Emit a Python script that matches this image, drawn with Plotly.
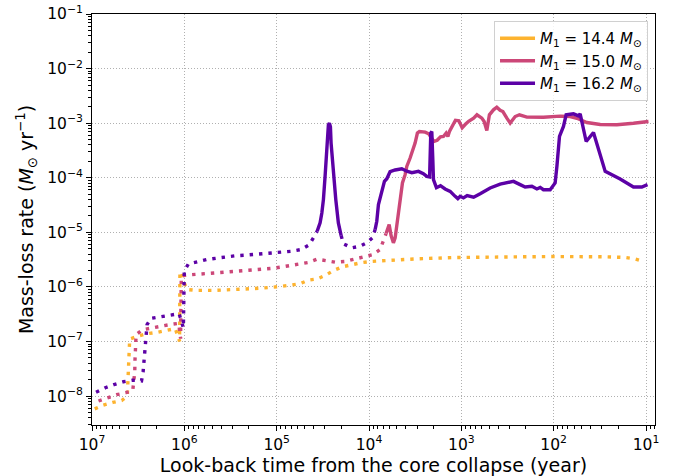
import numpy as np
import plotly.graph_objects as go

# ---------------- data (log10 of look-back time [yr], log10 of mass-loss rate [Msun/yr]) -------------
# M1 = 14.4 Msun (dotted everywhere)
y14_logt = [6.971, 6.878, 6.776, 6.678, 6.618, 6.613, 6.610, 6.607, 6.599, 6.596, 6.592, 6.498, 6.401,
            6.296, 6.195, 6.098, 6.052, 6.048, 5.974, 5.873, 5.671, 5.465, 5.158, 4.952, 4.750, 4.657,
            4.562, 4.468, 4.384, 4.288, 4.191, 4.089, 3.988, 3.782, 3.476, 3.067, 2.580, 2.038, 1.428,
            1.222, 1.120, 1.023]
y14_logm = [-8.234, -8.167, -8.117, -8.081, -7.996, -7.814, -7.649, -7.472, -7.302, -7.124, -6.954,
            -6.900, -6.856, -6.832, -6.801, -6.764, -6.997, -5.717, -6.046, -6.064, -6.064, -6.051,
            -6.022, -5.991, -5.942, -5.876, -5.854, -5.784, -5.698, -5.631, -5.589, -5.558, -5.534,
            -5.510, -5.485, -5.461, -5.448, -5.443, -5.448, -5.461, -5.485, -5.534]

# M1 = 15.0 Msun : dotted phase then solid phase
p15_dot_logt = [6.930, 6.834, 6.735, 6.635, 6.559, 6.548, 6.537, 6.536, 6.534, 6.527, 6.523, 6.451,
                6.350, 6.247, 6.144, 6.061, 6.041, 6.039, 6.036, 6.034, 6.033, 5.982, 5.881, 5.776,
                5.675, 5.573, 5.469, 5.367, 5.267, 5.166, 5.061, 4.960, 4.855, 4.754, 4.657, 4.562,
                4.465, 4.364, 4.262, 4.161, 4.061, 3.961, 3.880, 3.844, 3.815]
p15_dot_logm = [-8.090, -8.026, -7.975, -7.938, -7.901, -7.722, -7.558, -7.386, -7.216, -7.046, -6.874,
                -6.783, -6.746, -6.717, -6.686, -6.667, -6.947, -6.594, -6.278, -5.973, -5.803, -5.784,
                -5.772, -5.759, -5.748, -5.735, -5.717, -5.704, -5.693, -5.680, -5.662, -5.638, -5.613,
                -5.589, -5.552, -5.492, -5.516, -5.547, -5.534, -5.497, -5.452, -5.410, -5.315, -5.163,
                -5.022]
p15_sol_logt = [3.815, 3.782, 3.761, 3.736, 3.717, 3.688, 3.663, 3.638, 3.609, 3.591, 3.555, 3.526,
                3.501, 3.476, 3.454, 3.392, 3.354, 3.298, 3.262, 3.226, 3.194, 3.165, 3.146, 3.129,
                3.100, 3.064, 3.027, 2.991, 2.956, 2.921, 2.867, 2.831, 2.778, 2.753, 2.724, 2.696,
                2.652, 2.616, 2.580, 2.550, 2.507, 2.471, 2.417, 2.371, 2.290, 2.111, 1.930, 1.821,
                1.749, 1.640, 1.496, 1.315, 1.136, 0.973]
p15_sol_logm = [-5.022, -4.858, -5.059, -5.192, -5.101, -4.766, -4.400, -4.095, -3.943, -3.792, -3.638,
                -3.486, -3.364, -3.181, -3.152, -3.163, -3.194, -3.335, -3.313, -3.249, -3.243, -3.181,
                -3.243, -3.152, -3.066, -2.947, -2.956, -3.084, -3.020, -2.965, -2.907, -2.846, -2.907,
                -2.969, -3.134, -2.846, -2.755, -2.706, -2.764, -2.786, -2.907, -2.998, -2.878, -2.846,
                -2.889, -2.892, -2.870, -2.878, -2.910, -2.987, -3.024, -3.027, -3.002, -2.969]

# M1 = 16.2 Msun : dotted / solid (spike) / dotted / solid
q16_dot1_logt = [6.957, 6.856, 6.762, 6.661, 6.563, 6.464, 6.447, 6.437, 6.426, 6.418, 6.412, 6.404,
                 6.361, 6.260, 6.158, 6.057, 6.011, 6.009, 6.003, 6.001, 5.957, 5.855, 5.754, 5.653,
                 5.551, 5.451, 5.346, 5.245, 5.144, 5.042, 4.938, 4.836, 4.736, 4.649, 4.592, 4.562]
q16_dot1_logm = [-7.929, -7.847, -7.788, -7.737, -7.710, -7.722, -7.558, -7.380, -7.210, -7.039, -6.863,
                 -6.691, -6.576, -6.552, -6.521, -6.490, -6.750, -6.411, -6.059, -5.708, -5.580, -5.534,
                 -5.497, -5.474, -5.448, -5.430, -5.419, -5.406, -5.393, -5.382, -5.364, -5.346, -5.315,
                 -5.229, -5.071, -4.980]
q16_sol1_logt = [4.562, 4.530, 4.511, 4.494, 4.476, 4.457, 4.440, 4.429, 4.418, 4.411, 4.386, 4.360,
                 4.332, 4.302]
q16_sol1_logm = [-4.980, -4.826, -4.644, -4.400, -3.974, -3.364, -3.029, -2.998, -3.066, -3.364, -3.974,
                 -4.400, -4.826, -5.059]
q16_dot2_logt = [4.302, 4.277, 4.186, 4.096, 4.024, 3.963, 3.934]
q16_dot2_logm = [-5.059, -5.210, -5.283, -5.254, -5.192, -5.101, -4.949]
q16_sol2_logt = [3.934, 3.916, 3.898, 3.877, 3.855, 3.833, 3.807, 3.772, 3.717, 3.645, 3.591, 3.536,
                 3.465, 3.411, 3.374, 3.344, 3.331, 3.320, 3.309, 3.302, 3.270, 3.226, 3.176, 3.121,
                 3.067, 3.038, 3.013, 2.977, 2.937, 2.867, 2.796, 2.688, 2.580, 2.436, 2.363, 2.309,
                 2.236, 2.182, 2.146, 2.111, 2.038, 1.984, 1.965, 1.937, 1.894, 1.865, 1.786, 1.731,
                 1.713, 1.684, 1.648, 1.569, 1.515, 1.442, 1.280, 1.136, 1.045, 0.984]
q16_sol2_logm = [-4.949, -4.797, -4.492, -4.364, -4.236, -4.066, -4.017, -3.889, -3.857, -3.834, -3.879,
                 -3.907, -3.883, -3.925, -3.974, -3.985, -3.181, -3.152, -3.669, -4.035, -4.181, -4.145,
                 -4.205, -4.249, -4.340, -4.382, -4.340, -4.369, -4.327, -4.355, -4.291, -4.187, -4.117,
                 -4.066, -4.126, -4.168, -4.157, -4.205, -4.176, -4.218, -4.218, -4.095, -3.792, -3.243,
                 -3.060, -2.846, -2.828, -2.865, -2.828, -3.060, -3.335, -3.170, -3.486, -3.883, -4.022,
                 -4.168, -4.168, -4.126]

labels = ["<i>M</i><sub>1</sub> = 14.4 <i>M</i><sub>⊙</sub>",
          "<i>M</i><sub>1</sub> = 15.0 <i>M</i><sub>⊙</sub>",
          "<i>M</i><sub>1</sub> = 16.2 <i>M</i><sub>⊙</sub>"]
colors = ["#fdb32f", "#cc4778", "#5c01a6"]

x_tick_exp = [7, 6, 5, 4, 3, 2, 1]
y_tick_exp = [-8, -7, -6, -5, -4, -3, -2, -1]

# ---------------- figure ----------------
DOT = "3.4px,6px"


def p(v):
    return np.power(10.0, np.array(v))


fig = go.Figure()
segments = [
    (y14_logt, y14_logm, colors[0], DOT),
    (p15_dot_logt, p15_dot_logm, colors[1], DOT),
    (p15_sol_logt, p15_sol_logm, colors[1], "solid"),
    (q16_dot1_logt, q16_dot1_logm, colors[2], DOT),
    (q16_sol1_logt, q16_sol1_logm, colors[2], "solid"),
    (q16_dot2_logt, q16_dot2_logm, colors[2], DOT),
    (q16_sol2_logt, q16_sol2_logm, colors[2], "solid"),
]
for lt, lm, c, d in segments:
    fig.add_trace(go.Scatter(x=p(lt), y=p(lm), mode="lines",
                             line=dict(color=c, width=3.4, dash=d),
                             showlegend=False, hoverinfo="skip"))

for lab, c in zip(labels, colors):
    fig.add_trace(go.Scatter(x=[None], y=[None], mode="lines", name=lab,
                             line=dict(color=c, width=3.5)))


def sup(e):
    s = str(e).replace("-", "−")
    return f"10<sup>{s}</sup>"


def minor_vals(lo, hi):
    out = []
    for e in range(lo, hi):
        for k in range(2, 10):
            out.append(k * 10.0 ** e)
    return out


axis_common = dict(
    type="log", showline=True, linecolor="black", linewidth=1, mirror=True,
    ticks="outside", ticklen=5, tickwidth=1, tickcolor="black",
    showgrid=True, gridcolor="#b0b0b0", gridwidth=1, griddash="1px,2px",
    zeroline=False, tickfont=dict(size=15.5, color="black"),
    ticklabeloverflow="allow",
)

fig.update_xaxes(
    **axis_common,
    range=[7.0005, 0.9025],
    tickmode="array", tickvals=[10.0 ** e for e in x_tick_exp],
    ticktext=[sup(e) for e in x_tick_exp],
    minor=dict(ticks="outside", ticklen=3, tickwidth=1, tickcolor="black", showgrid=False,
               tickmode="array", tickvals=minor_vals(0, 7)),
    title=dict(text="Look-back time from the core collapse (year)",
               font=dict(size=19, color="black"), standoff=5),
)
fig.update_yaxes(
    **axis_common,
    range=[-8.53, -0.999],
    tickmode="array", tickvals=[10.0 ** e for e in y_tick_exp],
    ticktext=[sup(e) for e in y_tick_exp],
    minor=dict(ticks="outside", ticklen=3, tickwidth=1, tickcolor="black", showgrid=False,
               tickmode="array", tickvals=minor_vals(-9, -1)),
    title=dict(text="Mass-loss rate (<i>M</i><sub>⊙</sub> yr<sup>−1</sup>)",
               font=dict(size=19, color="black"), standoff=8),
)

fig.update_layout(
    width=677, height=476,
    margin=dict(l=92, r=22, t=14, b=51, autoexpand=False),
    paper_bgcolor="white", plot_bgcolor="white",
    font=dict(family="DejaVu Sans", color="black"),
    legend=dict(x=0.9876, xanchor="right", y=0.983, yanchor="top",
                bgcolor="rgba(255,255,255,0.85)", bordercolor="#d0d0d0", borderwidth=1,
                font=dict(size=15, color="black"), tracegroupgap=0, itemwidth=35),
)

# remove the browser's default 8px body margin so the figure sits at the page origin
fig.write_html("out.html",
               config={"displayModeBar": False},
               post_script="document.body.style.margin='0';document.body.style.overflow='hidden';")
